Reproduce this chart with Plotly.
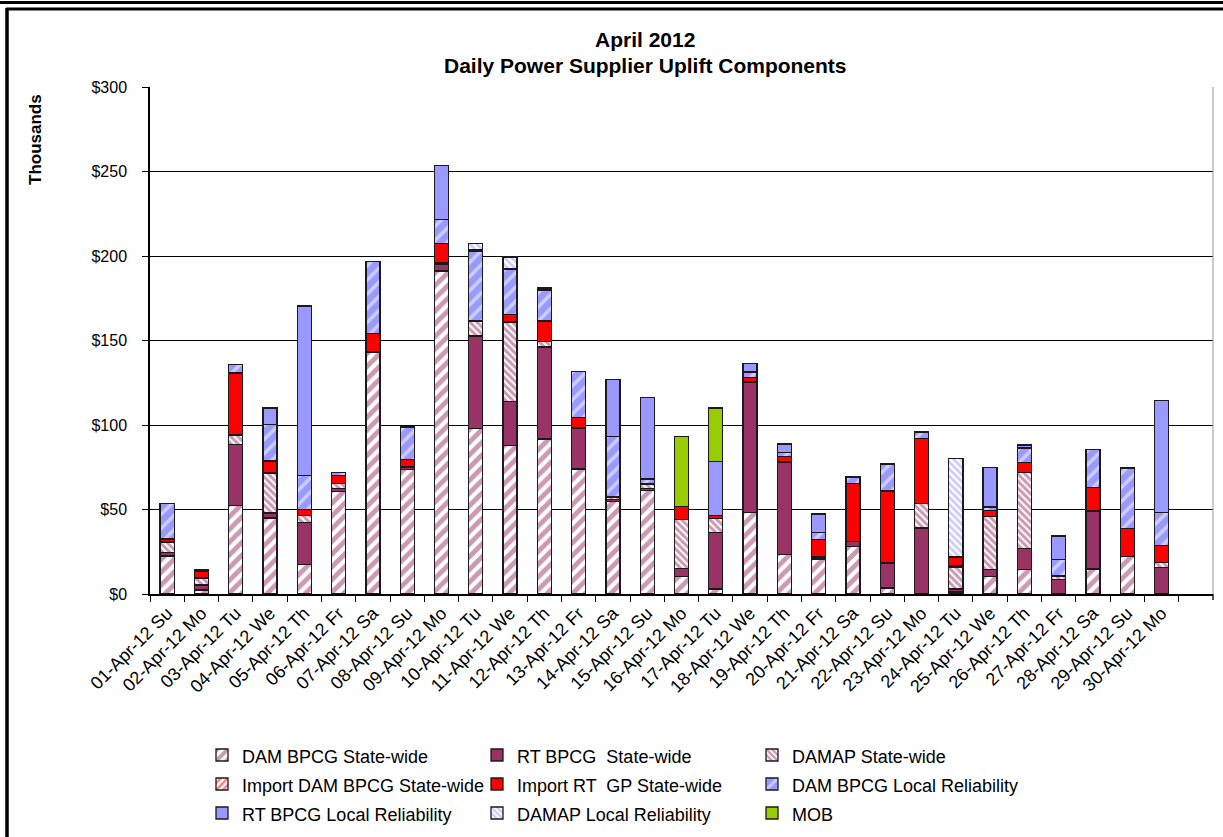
import plotly.graph_objects as go

days = ["01-Apr-12 Su", "02-Apr-12 Mo", "03-Apr-12 Tu", "04-Apr-12 We", "05-Apr-12 Th",
        "06-Apr-12 Fr", "07-Apr-12 Sa", "08-Apr-12 Su", "09-Apr-12 Mo", "10-Apr-12 Tu",
        "11-Apr-12 We", "12-Apr-12 Th", "13-Apr-12 Fr", "14-Apr-12 Sa", "15-Apr-12 Su",
        "16-Apr-12 Mo", "17-Apr-12 Tu", "18-Apr-12 We", "19-Apr-12 Th", "20-Apr-12 Fr",
        "21-Apr-12 Sa", "22-Apr-12 Su", "23-Apr-12 Mo", "24-Apr-12 Tu", "25-Apr-12 We",
        "26-Apr-12 Th", "27-Apr-12 Fr", "28-Apr-12 Sa", "29-Apr-12 Su", "30-Apr-12 Mo"]

# values in $ thousands
dam_bpcg_sw = [22.5, 2.4, 52.2, 44.9, 17.6, 60.7, 143.1, 73.5, 191.1, 98.0, 87.7, 91.7, 73.9, 54.7, 61.1,
               10.3, 3.0, 48.4, 23.3, 20.4, 28.3, 3.6, 0, 1.2, 10.5, 14.3, 0, 14.8, 22.1, 0]
rt_bpcg_sw = [2.2, 2.9, 36.1, 3.0, 24.7, 1.9, 0.6, 1.5, 4.0, 54.6, 26.1, 54.5, 24.1, 1.2, 1.5,
              4.9, 33.4, 77.1, 54.8, 0.9, 2.9, 14.8, 39.1, 1.8, 3.9, 12.8, 8.7, 34.4, 0, 15.8]
damap_sw = [6.1, 4.0, 5.8, 23.7, 4.1, 2.6, 0, 0, 0, 8.9, 46.7, 3.4, 0, 1.0, 2.0,
            28.7, 8.1, 0, 0, 0, 0, 0, 14.5, 13.0, 31.3, 45.0, 1.6, 0, 0, 3.0]
import_dam_sw = [0.3, 0.5, 0, 0, 0, 0, 0, 0.5, 0.8, 0.5, 0.5, 0, 0.5, 0.8, 0.5,
                 0, 0, 0.3, 0.3, 0.8, 0, 0, 0, 0.8, 0, 0, 0.8, 0.3, 0, 0]
import_rt_gp_sw = [1.5, 3.9, 36.7, 7.1, 3.8, 4.8, 10.6, 3.9, 11.4, 0, 4.3, 11.9, 5.8, 0, 0,
                   7.9, 1.9, 2.4, 3.1, 10.1, 34.0, 42.5, 38.3, 5.1, 3.9, 5.8, 0, 13.4, 16.8, 10.1]
dam_bpcg_lr = [21.1, 0.5, 4.9, 21.5, 19.8, 2.1, 42.5, 19.4, 14.4, 40.5, 26.7, 18.3, 27.5, 35.6, 3.0,
               0, 0, 3.1, 2.4, 4.0, 4.0, 15.8, 3.9, 0, 1.8, 8.5, 9.3, 22.4, 35.6, 19.3]
rt_bpcg_lr = [0, 0, 0, 9.9, 100.4, 0, 0, 0, 31.7, 1.0, 0.5, 1.2, 0, 33.6, 48.2,
              0, 32.1, 4.9, 4.9, 11.2, 0, 0.6, 0, 0, 23.3, 1.7, 14.0, 0, 0, 66.4]
damap_lr = [0, 0, 0, 0, 0, 0, 0, 0, 0, 3.9, 6.9, 0, 0, 0, 0,
            0, 0, 0, 0, 0, 0, 0, 0, 58.3, 0, 0, 0, 0, 0, 0]
mob = [0, 0, 0, 0, 0, 0, 0, 0, 0, 0, 0, 0, 0, 0, 0,
       41.5, 31.6, 0, 0, 0, 0, 0, 0, 0, 0, 0, 0, 0, 0, 0]

y_ticks = [0, 50, 100, 150, 200, 250, 300]
y_tick_labels = ["$0", "$50", "$100", "$150", "$200", "$250", "$300"]

MAROON = "#993366"
RED = "#FF0000"
BLUE = "#9999FF"
GREEN = "#99CC00"
FONT = "Liberation Sans, Arial, sans-serif"

series = [
    ("DAM BPCG State-wide", dam_bpcg_sw, dict(color="white", pattern=dict(shape="/", fgcolor=MAROON, bgcolor="white", size=9, solidity=0.55))),
    ("RT BPCG  State-wide", rt_bpcg_sw, dict(color=MAROON)),
    ("DAMAP State-wide", damap_sw, dict(color="white", pattern=dict(shape="\\", fgcolor=MAROON, bgcolor="white", size=5, solidity=0.6))),
    ("Import DAM BPCG State-wide", import_dam_sw, dict(color="white", pattern=dict(shape="/", fgcolor=RED, bgcolor="white", size=6, solidity=0.5))),
    ("Import RT  GP State-wide", import_rt_gp_sw, dict(color=RED)),
    ("DAM BPCG Local Reliability", dam_bpcg_lr, dict(color=BLUE, pattern=dict(shape="/", fgcolor="white", bgcolor=BLUE, size=10, solidity=0.35))),
    ("RT BPCG Local Reliability", rt_bpcg_lr, dict(color=BLUE)),
    ("DAMAP Local Reliability", damap_lr, dict(color="white", pattern=dict(shape="\\", fgcolor=BLUE, bgcolor="white", size=5, solidity=0.55))),
    ("MOB", mob, dict(color=GREEN)),
]

fig = go.Figure()
for name, vals, mk in series:
    mk = dict(mk)
    mk["line"] = dict(color="#1a1a1a", width=1.3)
    fig.add_trace(go.Bar(
        x=days, y=vals, name='<span style="font-size:18px">' + name + '</span>',
        marker=mk, hoverinfo="skip"))

W, H = 1223, 837
L, R, T, B = 150, 10, 87, 243
PW, PH = W - L - R, H - T - B


def px(xp):
    return (xp - L) / PW


def py(yp):
    return (H - B - yp) / PH


shapes = [
    # outer frame
    dict(type="line", xref="paper", yref="paper", x0=px(0), x1=px(W), y0=py(2.5), y1=py(2.5), line=dict(color="black", width=3)),
    dict(type="line", xref="paper", yref="paper", x0=px(6), x1=px(W), y0=py(9), y1=py(9), line=dict(color="black", width=3)),
    dict(type="line", xref="paper", yref="paper", x0=px(7), x1=px(7), y0=py(8), y1=py(H), line=dict(color="black", width=3.5)),
    # plot area right border and last boundary tick
    dict(type="line", xref="paper", yref="paper", x0=1, x1=1, y0=0, y1=1, line=dict(color="#999999", width=1)),
    dict(type="line", xref="paper", yref="paper", x0=1, x1=1, y0=0, y1=py(H - B + 6), line=dict(color="black", width=1.3)),
]

annotations = [
    dict(text="<b>April 2012</b>", xref="paper", yref="paper", x=px(645), y=py(40), showarrow=False,
         xanchor="center", yanchor="middle", font=dict(family=FONT, size=21, color="black")),
    dict(text="<b>Daily Power Supplier Uplift Components</b>", xref="paper", yref="paper", x=px(645), y=py(65),
         showarrow=False, xanchor="center", yanchor="middle", font=dict(family=FONT, size=21, color="black")),
    dict(text="<b>Thousands</b>", xref="paper", yref="paper", x=px(35), y=py(140), showarrow=False,
         textangle=-90, xanchor="center", yanchor="middle", font=dict(family=FONT, size=17, color="black")),
]

fig.update_layout(
    width=W, height=H,
    margin=dict(l=L, r=R, t=T, b=B, autoexpand=False),
    paper_bgcolor="white", plot_bgcolor="white",
    barmode="stack", bargap=0.59,
    font=dict(family=FONT, color="black"),
    showlegend=True,
    legend=dict(orientation="h", traceorder="normal", x=px(202), y=py(735.5), xanchor="left", yanchor="top",
                entrywidth=230, entrywidthmode="pixels", font=dict(family=FONT, size=20, color="black"),
                bgcolor="rgba(0,0,0,0)", itemclick=False, itemdoubleclick=False),
    shapes=shapes,
    annotations=annotations,
)

fig.update_xaxes(
    type="category", categoryorder="array", categoryarray=days,
    range=[-0.5, 30.5], tickson="boundaries", ticks="outside", ticklen=6, tickwidth=1.3, tickcolor="black",
    tickangle=-45, tickfont=dict(family=FONT, size=18, color="black"),
    showline=True, linecolor="black", linewidth=1.5, showgrid=False, automargin=False,
)
fig.update_yaxes(
    range=[0, 300], tickmode="array", tickvals=y_ticks, ticktext=y_tick_labels,
    ticks="outside", ticklen=6, tickwidth=1.3, tickcolor="black", ticklabelstandoff=12,
    tickfont=dict(family=FONT, size=16, color="black"),
    showline=True, linecolor="black", linewidth=1.5,
    showgrid=True, gridcolor="black", gridwidth=1.4, zeroline=False, automargin=False,
)

fig.write_html("out.html",
               config={"displayModeBar": False},
               post_script="document.body.style.margin='0px';document.body.style.overflow='hidden';")
